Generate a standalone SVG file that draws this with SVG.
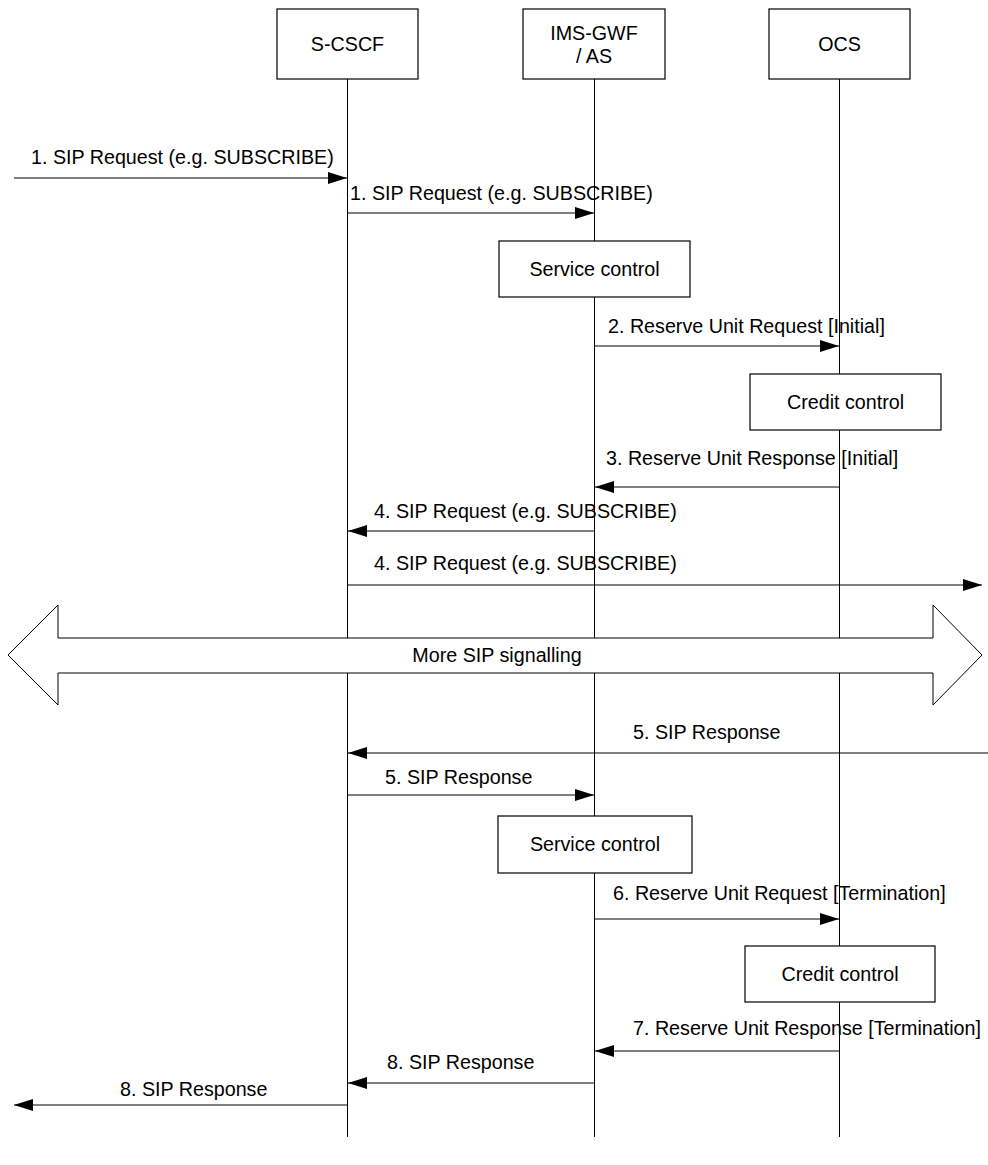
<svg xmlns="http://www.w3.org/2000/svg" width="988" height="1165" viewBox="0 0 988 1165">
<style>
text{font-family:"Liberation Sans",Arial,sans-serif;font-size:19.7px;fill:#000}
.c{text-anchor:middle}
.box{fill:#fff;stroke:#000;stroke-width:1.2}
.life{stroke:#000;stroke-width:1}
.msg{stroke:#000;stroke-width:1.2;fill:none;marker-end:url(#ah)}
</style>
<defs>
<marker id="ah" markerUnits="userSpaceOnUse" markerWidth="20" markerHeight="14" refX="19" refY="6" orient="auto">
<path d="M0,0 L19,6 L0,12 z" fill="#000"/>
</marker>
</defs>
<rect width="988" height="1165" fill="#fff"/>
<g id="lifelines">
<line class="life" x1="347.5" y1="79" x2="347.5" y2="1137"/>
<line class="life" x1="594.5" y1="79" x2="594.5" y2="1137"/>
<line class="life" x1="839.5" y1="79" x2="839.5" y2="1137"/>
</g>
<g id="scscf"><rect class="box" x="277" y="9" width="141" height="70"/><text class="c" x="347.5" y="51">S-CSCF</text></g>
<g id="imsgwf"><rect class="box" x="523" y="9" width="142" height="70"/><text class="c" x="594" y="40">IMS-GWF</text><text class="c" x="594" y="63">/ AS</text></g>
<g id="ocs"><rect class="box" x="769" y="9" width="141" height="70"/><text class="c" x="839.5" y="51">OCS</text></g>
<g id="sc1"><rect class="box" x="499" y="241" width="191" height="56"/><text class="c" x="594.5" y="276">Service control</text></g>
<g id="cc1"><rect class="box" x="750" y="374" width="191" height="56"/><text class="c" x="845.5" y="409">Credit control</text></g>
<g id="sc2"><rect class="box" x="498" y="816" width="194" height="57"/><text class="c" x="595" y="851">Service control</text></g>
<g id="cc2"><rect class="box" x="745" y="946" width="190" height="56"/><text class="c" x="840" y="981">Credit control</text></g>
<g id="connectors">
<line class="msg" x1="14" y1="178" x2="347" y2="178"/>
<line class="msg" x1="348" y1="213" x2="594" y2="213"/>
<line class="msg" x1="595" y1="346" x2="839" y2="346"/>
<line class="msg" x1="839" y1="487" x2="595" y2="487"/>
<line class="msg" x1="594" y1="531" x2="348" y2="531"/>
<line class="msg" x1="348" y1="585" x2="982" y2="585"/>
<line class="msg" x1="988" y1="753" x2="348" y2="753"/>
<line class="msg" x1="348" y1="795" x2="594" y2="795"/>
<line class="msg" x1="595" y1="919" x2="839" y2="919"/>
<line class="msg" x1="839" y1="1051" x2="595" y2="1051"/>
<line class="msg" x1="594" y1="1083" x2="348" y2="1083"/>
<line class="msg" x1="347" y1="1105" x2="14" y2="1105"/>
</g>
<g id="more-sip">
<polygon points="8,655 58,605 58,638 933,638 933,605 982,655 933,705 933,673 58,673 58,705" fill="#fff" stroke="#000" stroke-width="1"/>
<text class="c" x="497" y="662">More SIP signalling</text>
</g>
<g id="labels">
<text x="31" y="164">1. SIP Request (e.g. SUBSCRIBE)</text>
<text x="350" y="200">1. SIP Request (e.g. SUBSCRIBE)</text>
<text x="608" y="333">2. Reserve Unit Request [Initial]</text>
<text x="606" y="465">3. Reserve Unit Response [Initial]</text>
<text x="374" y="518">4. SIP Request (e.g. SUBSCRIBE)</text>
<text x="374" y="570">4. SIP Request (e.g. SUBSCRIBE)</text>
<text x="633" y="739">5. SIP Response</text>
<text x="385" y="784">5. SIP Response</text>
<text x="613" y="900">6. Reserve Unit Request [Termination]</text>
<text x="633" y="1035">7. Reserve Unit Response [Termination]</text>
<text x="387" y="1069">8. SIP Response</text>
<text x="120" y="1096">8. SIP Response</text>
</g>
</svg>
